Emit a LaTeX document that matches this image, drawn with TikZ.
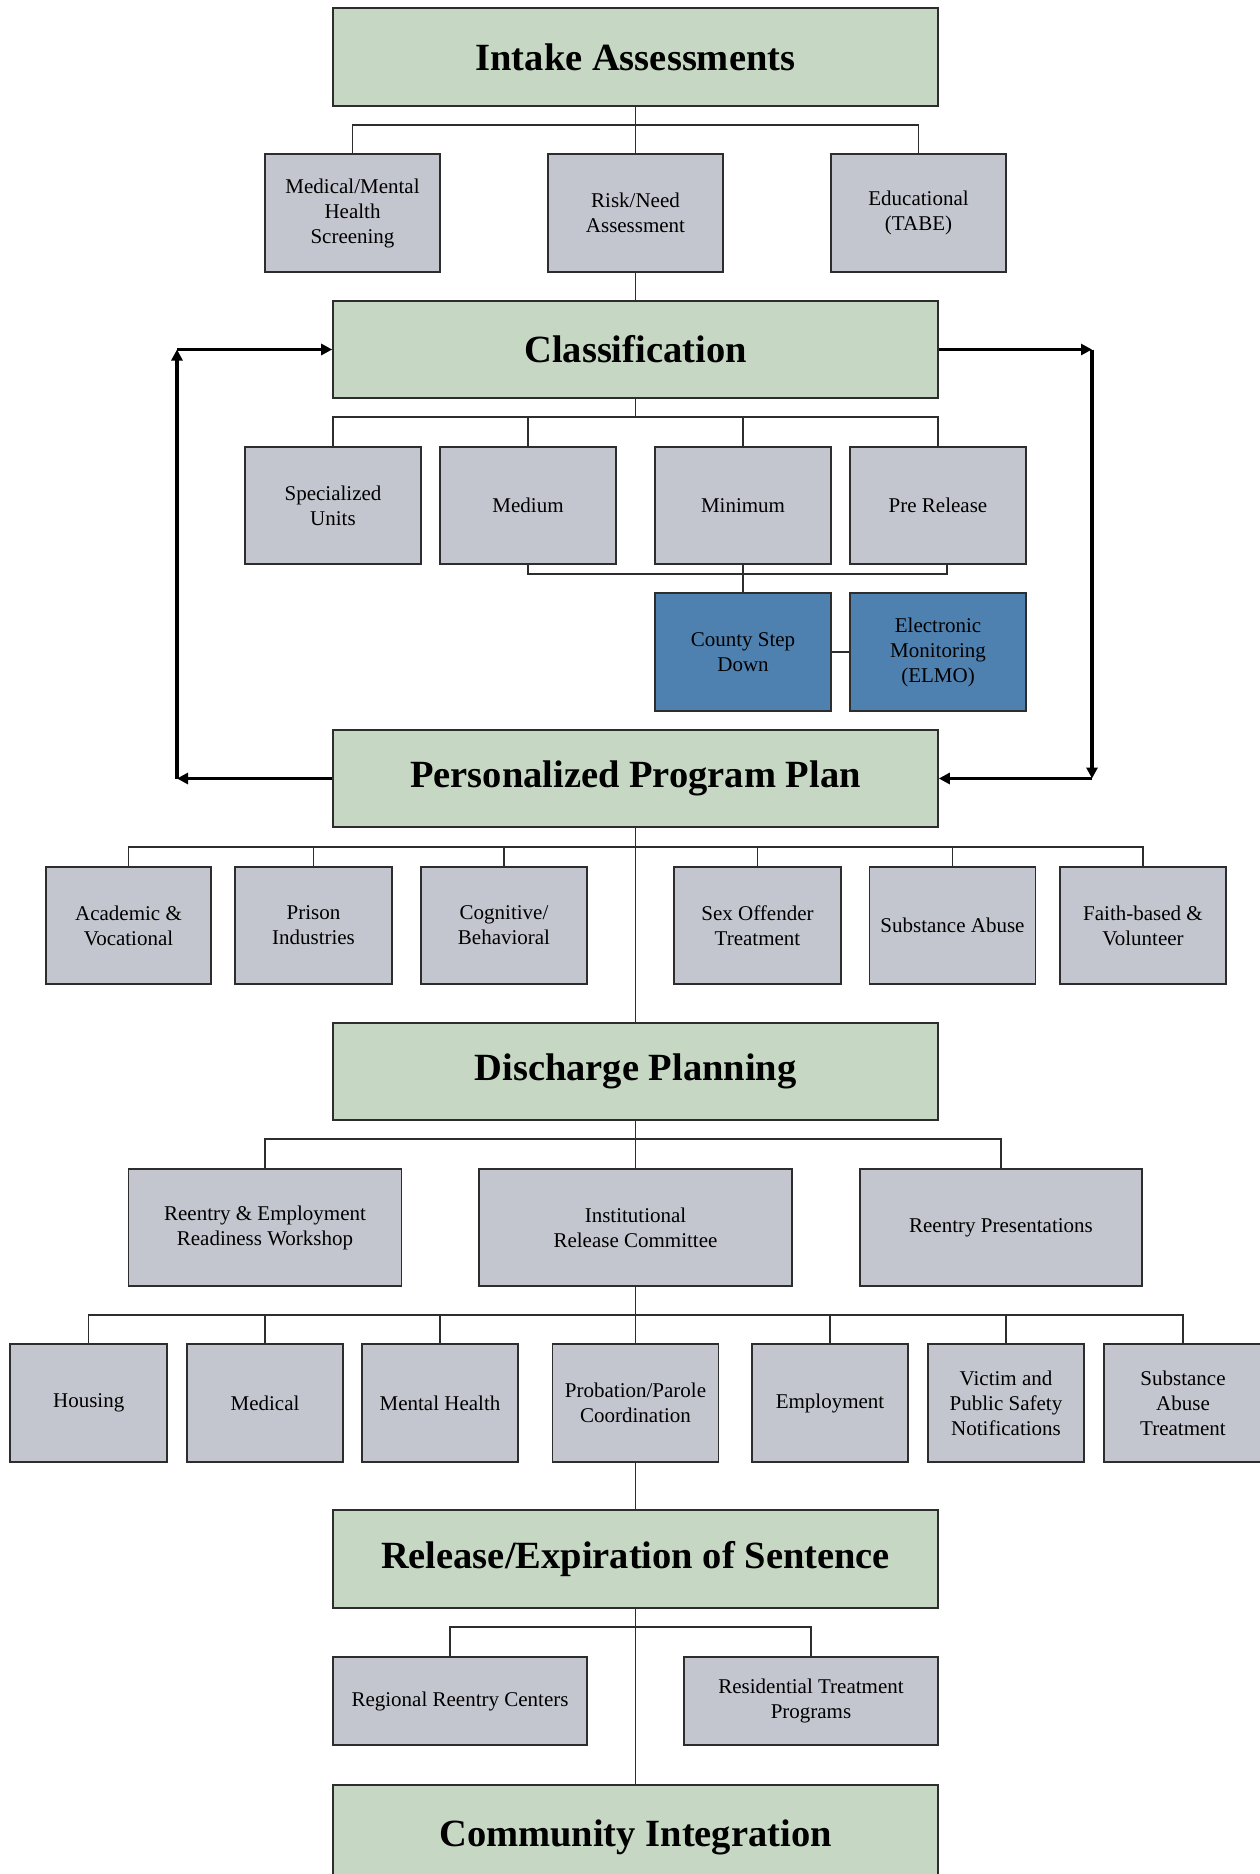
\documentclass[tikz,border=0pt]{standalone}
\usepackage{fontspec}
\setmainfont{Liberation Serif}
\usetikzlibrary{arrows.meta}
\definecolor{greenc}{RGB}{198,216,196}
\definecolor{greyc}{RGB}{196,198,207}
\definecolor{bluec}{RGB}{79,129,176}
\definecolor{edgec}{RGB}{45,45,45}
\begin{document}
\begin{tikzpicture}[x=1pt,y=-1pt,
  basebox/.style={draw=edgec, line width=1.6pt, inner sep=0pt, align=center},
  gbox/.style={basebox, fill=greenc, minimum width=605pt, font=\fontsize{38.5}{44}\selectfont\bfseries},
  sbox/.style={basebox, fill=greyc, font=\fontsize{21}{25}\selectfont},
  bbox/.style={sbox, fill=bluec},
  conn/.style={draw=edgec, line width=1.4pt},
  fb/.style={draw=black, line width=3.6pt, -{Triangle[length=11pt,width=11pt]}}
]
\useasboundingbox (0,0) rectangle (1259,1874);
\fill[white] (0,0) rectangle (1259,1874);

% main stages
\node[gbox, minimum height=98pt] (intake) at (635.5,57) {Intake Assessments};
\node[gbox, minimum height=97pt] (class) at (635.5,349.5) {Classification};
\node[gbox, minimum height=97pt] (ppp) at (635.5,778.5) {Personalized Program Plan};
\node[gbox, minimum height=97pt] (disch) at (635.5,1071.5) {Discharge Planning};
\node[gbox, minimum height=98pt] (release) at (635.5,1559) {Release/Expiration of Sentence};
\node[gbox, minimum height=106pt, anchor=north] (community) at (635.5,1784) {\raisebox{10pt}{Community Integration}};

% row 1
\node[sbox, minimum width=175pt, minimum height=118pt] (medscr) at (352.5,213) {Medical/Mental\\Health\\Screening};
\node[sbox, minimum width=175pt, minimum height=118pt] (risk) at (635.5,213) {Risk/Need\\Assessment};
\node[sbox, minimum width=175pt, minimum height=118pt] (educ) at (918.5,213) {Educational\\(TABE)};

% row 2
\node[sbox, minimum width=176pt, minimum height=117pt] (spec) at (333,505.5) {Specialized\\Units};
\node[sbox, minimum width=176pt, minimum height=117pt] (medium) at (528,505.5) {Medium};
\node[sbox, minimum width=176pt, minimum height=117pt] (minimum) at (743,505.5) {Minimum};
\node[sbox, minimum width=176pt, minimum height=117pt] (pre) at (938,505.5) {Pre Release};
\node[bbox, minimum width=176pt, minimum height=118pt] (county) at (743,652) {County Step\\Down};
\node[bbox, minimum width=176pt, minimum height=118pt] (elmo) at (938,652) {Electronic\\Monitoring\\(ELMO)};

% row 3
\node[sbox, minimum width=165pt, minimum height=117pt] (acad) at (128.5,925.5) {Academic \&\\Vocational};
\node[sbox, minimum width=157pt, minimum height=117pt] (prison) at (313.5,925.5) {Prison\\Industries};
\node[sbox, minimum width=166pt, minimum height=117pt] (cogn) at (504,925.5) {Cognitive/\\Behavioral};
\node[sbox, minimum width=167pt, minimum height=117pt] (sexo) at (757.5,925.5) {Sex Offender\\Treatment};
\node[sbox, minimum width=166pt, minimum height=117pt] (subst) at (952.5,925.5) {Substance Abuse};
\node[sbox, minimum width=166pt, minimum height=117pt] (faith) at (1143,925.5) {Faith-based \&\\Volunteer};

% row 4
\node[sbox, minimum width=273pt, minimum height=117pt] (reemp) at (265,1227.5) {Reentry \& Employment\\Readiness Workshop};
\node[sbox, minimum width=313pt, minimum height=117pt] (inst) at (635.5,1227.5) {Institutional\\Release Committee};
\node[sbox, minimum width=282pt, minimum height=117pt] (repres) at (1001,1227.5) {Reentry Presentations};

% row 5
\node[sbox, minimum width=157pt, minimum height=118pt] (housing) at (88.7,1403) {Housing};
\node[sbox, minimum width=156pt, minimum height=118pt] (medical) at (265,1403) {Medical};
\node[sbox, minimum width=156pt, minimum height=118pt] (mental) at (440,1403) {Mental Health};
\node[sbox, minimum width=166pt, minimum height=118pt] (prob) at (635.5,1403) {Probation/Parole\\Coordination};
\node[sbox, minimum width=156pt, minimum height=118pt] (employ) at (830,1403) {Employment};
\node[sbox, minimum width=156pt, minimum height=118pt] (victim) at (1006,1403) {Victim and\\Public Safety\\Notifications};
\node[sbox, minimum width=158pt, minimum height=118pt] (sat) at (1183,1403) {Substance\\Abuse\\Treatment};

% row 6
\node[sbox, minimum width=254pt, minimum height=88pt] (regional) at (460,1701) {Regional Reentry Centers};
\node[sbox, minimum width=254pt, minimum height=88pt] (resid) at (811,1701) {Residential Treatment\\Programs};

% bus coordinates
\coordinate (b1) at (635.5,125);
\coordinate (b2) at (635.5,417);
\coordinate (b3) at (743,574);
\coordinate (b4) at (635.5,847);
\coordinate (b5) at (635.5,1139);
\coordinate (b6) at (635.5,1315);
\coordinate (b7) at (635.5,1627);
\coordinate (L1) at (177,778.5);
\coordinate (L2) at (177,349.5);
\coordinate (R1) at (1092,349.5);
\coordinate (R2) at (1092,778.5);

% connectors
\draw[conn] (intake.south) -- (risk.north);
\draw[conn] (medscr.north) |- (b1) -| (educ.north);
\draw[conn] (risk.south) -- (class.north);

\draw[conn] (class.south) -- (b2);
\draw[conn] (spec.north) |- (b2) -| (pre.north);
\draw[conn] (medium.north) -- (medium.north |- b2);
\draw[conn] (minimum.north) -- (minimum.north |- b2);
\draw[conn] (medium.south) |- (b3) -| ([xshift=9pt]pre.south);
\draw[conn] (minimum.south) -- (county.north);
\draw[conn] (county.east) -- (elmo.west);

\draw[fb] (ppp.west) -- (L1);
\draw[fb] (L1) -- (L2);
\draw[fb] (L2) -- (class.west);
\draw[fb] (class.east) -- (R1);
\draw[fb] (R1) -- (R2);
\draw[fb] (R2) -- (ppp.east);

\draw[conn] (ppp.south) -- (disch.north);
\draw[conn] (acad.north) |- (b4) -| (faith.north);
\draw[conn] (prison.north) -- (prison.north |- b4);
\draw[conn] (cogn.north) -- (cogn.north |- b4);
\draw[conn] (sexo.north) -- (sexo.north |- b4);
\draw[conn] (subst.north) -- (subst.north |- b4);

\draw[conn] (disch.south) -- (inst.north);
\draw[conn] (reemp.north) |- (b5) -| (repres.north);

\draw[conn] (inst.south) -- (prob.north);
\draw[conn] (housing.north) |- (b6) -| (sat.north);
\draw[conn] (medical.north) -- (medical.north |- b6);
\draw[conn] (mental.north) -- (mental.north |- b6);
\draw[conn] (employ.north) -- (employ.north |- b6);
\draw[conn] (victim.north) -- (victim.north |- b6);

\draw[conn] (prob.south) -- (release.north);
\draw[conn] (release.south) -- (community.north);
\draw[conn] ([xshift=-10pt]regional.north) |- (b7) -| (resid.north);
\end{tikzpicture}
\end{document}
